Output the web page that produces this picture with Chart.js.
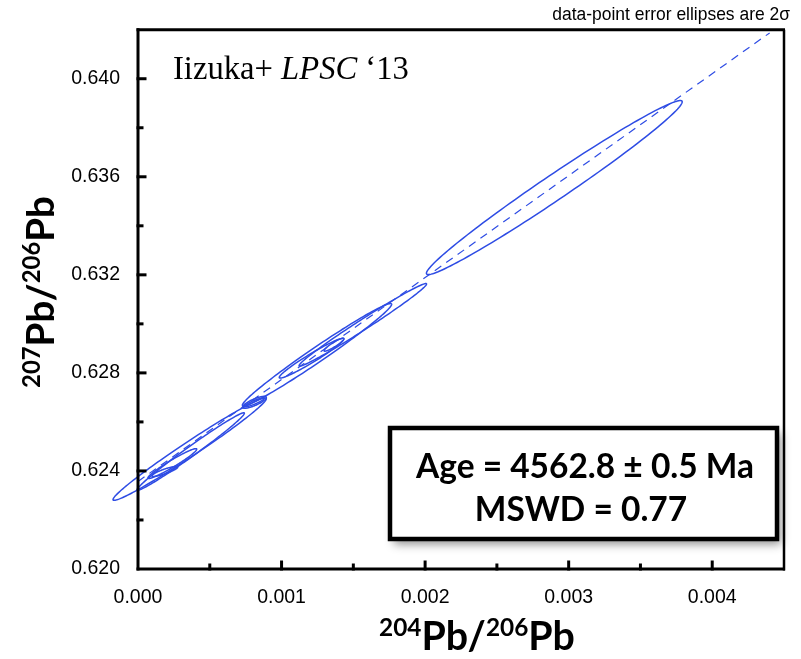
<!DOCTYPE html>
<html>
<head>
<meta charset="utf-8">
<script src="https://cdn.jsdelivr.net/npm/chart.js@4.4.1/dist/chart.umd.min.js"></script>
<style>
  html, body { margin: 0; padding: 0; background: #fff; }
  canvas { display: block; }
</style>
</head>
<body>
<canvas id="isochron" width="801" height="659"></canvas>
<script>
// error ellipses (centre, half extent in x and y, correlation)
const ellipseX     = [0.002900, 0.000360, 0.000367, 0.000239, 0.000187, 0.000811, 0.000811, 0.001247, 0.001209, 0.001365, 0.001566];
const ellipseY     = [0.63556, 0.62489, 0.62479, 0.62430, 0.62398, 0.62680, 0.62680, 0.62874, 0.62860, 0.62915, 0.62996];
const ellipseHalfX = [0.000891, 0.000534, 0.000374, 0.000170, 0.000090, 0.000083, 0.000069, 0.000520, 0.000225, 0.000069, 0.000444];
const ellipseHalfY = [0.003550, 0.002089, 0.001582, 0.000609, 0.000203, 0.000243, 0.000183, 0.002089, 0.000811, 0.000264, 0.001684];
const ellipseRho   = [0.985, 0.985, 0.988, 0.963, 0.87, 0.81, 0.9, 0.985, 0.968, 0.92, 0.989];

// isochron regression line
const lineX = [0, 0.0044];
const lineY = [0.62357, 0.64187];

const xTickLabels = ['0.000', '0.001', '0.002', '0.003', '0.004'];
const yTickLabels = ['0.620', '0.624', '0.628', '0.632', '0.636', '0.640'];

const BLUE = 'rgb(46, 76, 228)';

function fitSize(ctx, text, font, size, target) {
  ctx.font = font.replace('{s}', size);
  return size * target / ctx.measureText(text).width;
}

// draws text made of normal and superscript parts, centred on x
function drawSupText(ctx, parts, x, y, size, family) {
  const supSize = size * 0.62;
  let total = 0;
  parts.forEach(p => {
    ctx.font = 'bold ' + (p.sup ? supSize : size) + 'px ' + family;
    p.w = ctx.measureText(p.t).width;
    total += p.w;
  });
  let cx = x - total / 2;
  ctx.textAlign = 'left';
  ctx.textBaseline = 'alphabetic';
  parts.forEach(p => {
    ctx.font = 'bold ' + (p.sup ? supSize : size) + 'px ' + family;
    ctx.fillText(p.t, cx, p.sup ? y - size * 0.36 : y);
    cx += p.w;
  });
  return total;
}

function supWidth(ctx, parts, size, family) {
  let total = 0;
  parts.forEach(p => {
    ctx.font = 'bold ' + (p.sup ? size * 0.62 : size) + 'px ' + family;
    total += ctx.measureText(p.t).width;
  });
  return total;
}

const ellipsePlugin = {
  id: 'ellipses',
  afterDatasetsDraw(chart) {
    const ctx = chart.ctx, xs = chart.scales.x, ys = chart.scales.y;
    ctx.save();
    ctx.strokeStyle = BLUE;
    ctx.lineWidth = 1.5;
    for (let i = 0; i < ellipseX.length; i++) {
      const s = Math.sqrt(1 - ellipseRho[i] * ellipseRho[i]);
      ctx.beginPath();
      for (let k = 0; k <= 160; k++) {
        const t = k / 160 * Math.PI * 2;
        const vx = ellipseX[i] + ellipseHalfX[i] * Math.cos(t);
        const vy = ellipseY[i] + ellipseHalfY[i] * (ellipseRho[i] * Math.cos(t) + s * Math.sin(t));
        const px = xs.getPixelForValue(vx), py = ys.getPixelForValue(vy);
        if (k) ctx.lineTo(px, py); else ctx.moveTo(px, py);
      }
      ctx.closePath();
      ctx.stroke();
    }
    ctx.restore();
  }
};

const framePlugin = {
  id: 'frame',
  afterDraw(chart) {
    const ctx = chart.ctx, a = chart.chartArea;
    const xs = chart.scales.x, ys = chart.scales.y;
    ctx.save();
    ctx.strokeStyle = '#000';
    ctx.lineCap = 'square';
    // inward ticks
    ctx.lineWidth = 3;
    xs.ticks.forEach(t => {
      if (t.value <= xs.min || t.value >= xs.max) return;
      const px = xs.getPixelForValue(t.value);
      const len = t.label ? 7 : 4;
      ctx.beginPath(); ctx.moveTo(px, a.bottom); ctx.lineTo(px, a.bottom - len); ctx.stroke();
    });
    ys.ticks.forEach(t => {
      if (t.value <= ys.min || t.value >= ys.max) return;
      const py = ys.getPixelForValue(t.value);
      const len = t.label ? 7 : 4;
      ctx.beginPath(); ctx.moveTo(a.left, py); ctx.lineTo(a.left + len, py); ctx.stroke();
    });
    // frame
    ctx.lineCap = 'butt';
    ctx.lineWidth = 3;
    ctx.beginPath(); ctx.moveTo(a.left, a.top - 1.5); ctx.lineTo(a.left, a.bottom + 1.5); ctx.stroke();
    ctx.beginPath(); ctx.moveTo(a.left - 1.5, a.bottom); ctx.lineTo(a.right + 1, a.bottom); ctx.stroke();
    ctx.beginPath(); ctx.moveTo(a.left - 1.5, a.top); ctx.lineTo(a.right + 1, a.top); ctx.stroke();
    ctx.lineWidth = 2.5;
    ctx.beginPath(); ctx.moveTo(a.right, a.top); ctx.lineTo(a.right, a.bottom + 1.5); ctx.stroke();

    ctx.fillStyle = '#000';
    // note top right
    ctx.textAlign = 'right';
    ctx.textBaseline = 'alphabetic';
    const noteText = 'data-point error ellipses are 2\u03c3';
    const ns = fitSize(ctx, noteText, '{s}px "Liberation Sans"', 15, 238);
    ctx.font = ns + 'px "Liberation Sans"';
    ctx.fillText(noteText, 790, 20);

    // reference in top left
    const serif = '"Liberation Serif", "DejaVu Serif", serif';
    ctx.textAlign = 'left';
    ctx.font = '32px ' + serif;
    const p1 = 'Iizuka+ ', p3 = ' \u201813';
    let w = ctx.measureText(p1).width + ctx.measureText(p3).width;
    ctx.font = 'italic 32px ' + serif;
    w += ctx.measureText('LPSC').width;
    const rs = 32 * 236 / w;
    let tx = 173;
    ctx.font = rs + 'px ' + serif;
    ctx.fillText(p1, tx, 79); tx += ctx.measureText(p1).width;
    ctx.font = 'italic ' + rs + 'px ' + serif;
    ctx.fillText('LPSC', tx, 79); tx += ctx.measureText('LPSC').width;
    ctx.font = rs + 'px ' + serif;
    ctx.fillText(p3, tx, 79);

    // axis titles
    const bold = 'Lato, "Open Sans", sans-serif';
    const xParts = [{t: '204', sup: true}, {t: 'Pb/'}, {t: '206', sup: true}, {t: 'Pb'}];
    const xs2 = 40 * 196 / supWidth(ctx, xParts, 40, bold);
    drawSupText(ctx, xParts, 477, 650, xs2, bold);

    const yParts = [{t: '207', sup: true}, {t: 'Pb/'}, {t: '206', sup: true}, {t: 'Pb'}];
    const ys2 = 40 * 192 / supWidth(ctx, yParts, 40, bold);
    ctx.save();
    ctx.translate(54, 292);
    ctx.rotate(-Math.PI / 2);
    drawSupText(ctx, yParts, 0, 0, ys2, bold);
    ctx.restore();

    // result box
    const bx = 390, by = 428, bw = 387, bh = 111;
    ctx.save();
    ctx.shadowColor = 'rgba(0,0,0,0.45)';
    ctx.shadowBlur = 9;
    ctx.shadowOffsetX = 4;
    ctx.shadowOffsetY = 5;
    ctx.fillStyle = '#fff';
    ctx.fillRect(bx, by, bw, bh);
    ctx.restore();
    ctx.lineWidth = 4.5;
    ctx.strokeStyle = '#000';
    ctx.strokeRect(bx, by, bw, bh);

    const line1 = 'Age = 4562.8 \u00b1 0.5 Ma', line2 = 'MSWD = 0.77';
    const bs = fitSize(ctx, line1, 'bold {s}px ' + bold, 36, 338);
    ctx.font = 'bold ' + bs + 'px ' + bold;
    ctx.textAlign = 'center';
    ctx.fillStyle = '#000';
    ctx.fillText(line1, 585, 478);
    ctx.fillText(line2, 581, 521);
    ctx.restore();
  }
};

new Chart(document.getElementById('isochron').getContext('2d'), {
  type: 'scatter',
  data: {
    datasets: [{
      data: lineX.map((x, i) => ({x: x, y: lineY[i]})),
      showLine: true,
      borderColor: BLUE,
      borderWidth: 1.2,
      borderDash: [8, 6],
      pointRadius: 0
    }]
  },
  options: {
    responsive: false,
    animation: false,
    events: [],
    layout: { padding: { top: 25, right: 14, left: 0, bottom: 0 } },
    plugins: { legend: { display: false }, tooltip: { enabled: false } },
    scales: {
      x: {
        type: 'linear', min: 0, max: 0.0045,
        grid: { display: false, drawTicks: false },
        border: { display: false },
        ticks: {
          stepSize: 0.0005, autoSkip: false, maxRotation: 0, padding: 17,
          color: '#000', font: { family: '"Liberation Sans"', size: 19.5 },
          callback: v => {
            const s = v.toFixed(3);
            return Math.round(v * 10000) % 10 === 0 && xTickLabels.includes(s) ? s : '';
          }
        },
        afterFit: s => { s.height = 90; }
      },
      y: {
        type: 'linear', min: 0.620, max: 0.642,
        grid: { display: false, drawTicks: false },
        border: { display: false },
        ticks: {
          stepSize: 0.002, autoSkip: false, padding: 18,
          color: '#000', font: { family: '"Liberation Sans"', size: 19.5 },
          callback: v => {
            const s = v.toFixed(3);
            return yTickLabels.includes(s) ? s : '';
          }
        },
        afterFit: s => { s.width = 138; }
      }
    }
  },
  plugins: [ellipsePlugin, framePlugin]
});
</script>
</body>
</html>
